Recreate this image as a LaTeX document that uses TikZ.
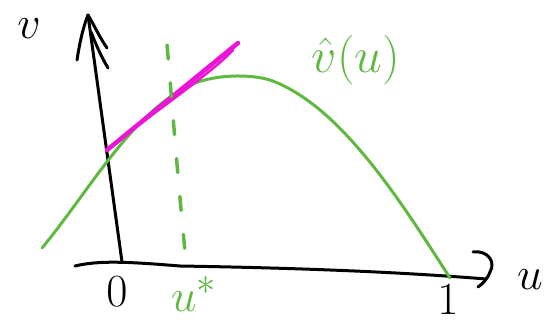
\documentclass[tikz,border=0pt]{standalone}
\usepackage{graphicx}
\usepackage{amsmath}
\definecolor{pen}{RGB}{95,185,65}
\definecolor{mag}{RGB}{235,20,215}
\newcommand{\sketchlbl}[1]{\scalebox{1.85}{#1}}
\begin{document}
\begin{tikzpicture}[x=1pt,y=-1pt,
  ink/.style={line width=3pt,line cap=round,line join=round},
  lbl/.style={font=\Huge,inner sep=0pt}]
\useasboundingbox (0,0) rectangle (548,323);
% horizontal axis
\coordinate (hx0) at (75,266);
\coordinate (hx1) at (486,279);
\draw[ink] (hx0) .. controls (100,260) and (130,262) .. (180,266)
  .. controls (300,268) and (400,272) .. (hx1);
\coordinate (ha1) at (473,252);
\coordinate (ha2) at (478,287);
\draw[ink] (ha1) .. controls (488,250) and (496,262) .. (490,272) .. controls (487,280) and (482,284) .. (ha2);
% vertical axis
\coordinate (vy0) at (122,262);
\coordinate (vy1) at (88,15);
\draw[ink] (vy0) -- (vy1);
\coordinate (va1) at (77,60);
\coordinate (va2) at (108,68);
\coordinate (va3) at (107,48);
\draw[ink] (va1) .. controls (80,40) and (84,25) .. (vy1) .. controls (94,25) and (100,38) .. (va3);
\draw[ink] (91,32) .. controls (96,45) and (102,58) .. (va2);
% green curve
\coordinate (g0) at (42,248);
\coordinate (g1) at (450,278);
\draw[pen,line width=3pt,line cap=round] (g0) .. controls (90,190) and (130,115) .. (190,85)
  .. controls (215,74) and (250,74) .. (270,80)
  .. controls (340,105) and (400,200) .. (g1);
% tangent
\coordinate (t0) at (107,150);
\coordinate (t1) at (238,43);
\draw[mag,line width=4.5pt,line cap=round] (t0) -- (t1);
\draw[mag,line width=2.5pt,line cap=round] (110,147) .. controls (160,108) and (215,70) .. (233,50);
% dashed line
\coordinate (d0) at (167,45);
\coordinate (d1) at (186,262);
\draw[pen,line width=3.5pt,line cap=round,dash pattern=on 14pt off 24pt] (d0) .. controls (172,100) and (176,160) .. (d1);
% labels
\node[lbl] (lv) at (29,29) {\sketchlbl{$v$}};
\node[lbl] (l0) at (117,292) {\sketchlbl{$0$}};
\node[lbl] (l1) at (448,300) {\sketchlbl{$1$}};
\node[lbl] (lu) at (530,280) {\sketchlbl{$u$}};
\node[lbl,text=pen] (lus) at (194,294) {\sketchlbl{$u^{*}$}};
\node[lbl,text=pen] (lvh) at (356,60) {\scalebox{2.0}{$\hat{v}(u)$}};
\end{tikzpicture}
\end{document}
